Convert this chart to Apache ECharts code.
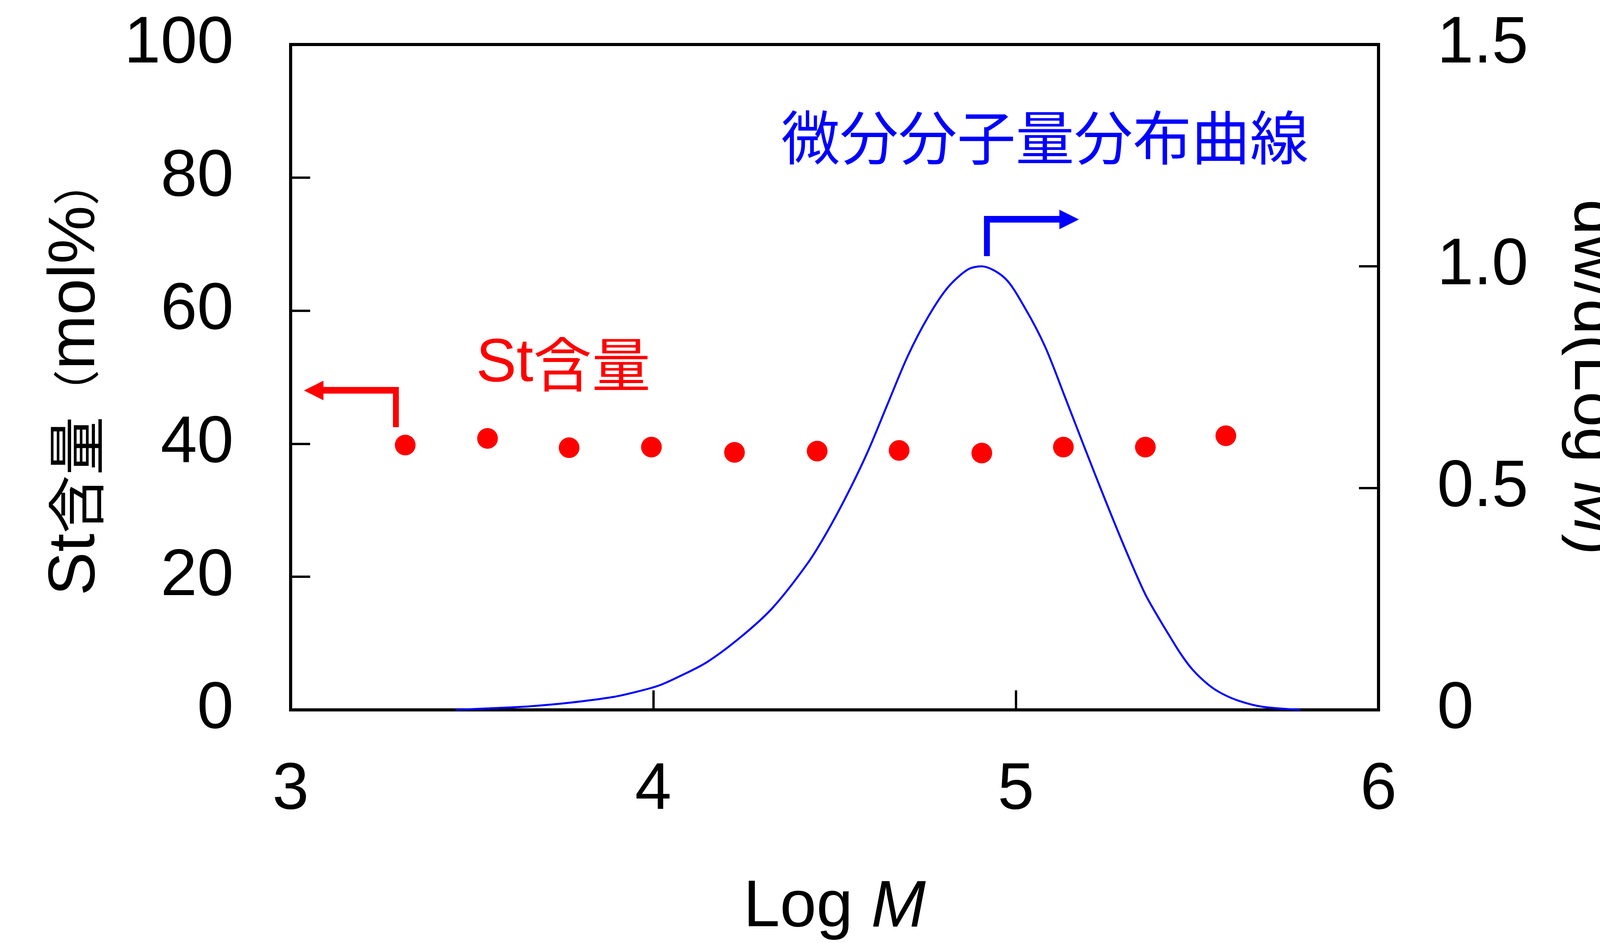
<!DOCTYPE html>
<html>
<head>
<meta charset="utf-8">
<script src="https://cdn.jsdelivr.net/npm/echarts@6/dist/echarts.min.js"></script>
<style>
  html, body { margin: 0; padding: 0; background: #fff; }
  #chart { width: 4400px; height: 2415px; }
</style>
</head>
<body>
<div id="chart"></div>
<script>
// St含量 (左軸, mol%)
var stLogM = [3.316, 3.543, 3.768, 3.995, 4.224, 4.452, 4.678, 4.906, 5.131, 5.357, 5.579];
var stContent = [39.8, 40.8, 39.4, 39.5, 38.7, 38.9, 39.0, 38.6, 39.5, 39.5, 41.2];

// 微分分子量分布曲線 (右軸)
var mwdLogM = [3.455, 3.548, 3.658, 3.768, 3.889, 3.955, 4.016, 4.071, 4.147, 4.241,
               4.329, 4.427, 4.482, 4.537, 4.592, 4.647, 4.702, 4.758, 4.813, 4.868,
               4.905, 4.970, 5.025, 5.081, 5.136, 5.191, 5.246, 5.301, 5.356, 5.399,
               5.422, 5.454, 5.487, 5.532, 5.570, 5.620, 5.680, 5.785];
var mwdValue = [0, 0.0035, 0.008, 0.016, 0.029, 0.041, 0.055, 0.075, 0.107, 0.164,
                0.230, 0.332, 0.405, 0.489, 0.583, 0.691, 0.798, 0.886, 0.953, 0.993,
                1.0, 0.973, 0.906, 0.818, 0.704, 0.588, 0.474, 0.364, 0.262, 0.200,
                0.169, 0.127, 0.091, 0.056, 0.036, 0.019, 0.007, 0];

var latin = "'Liberation Sans', Arial, sans-serif";
var cjk = "'Noto Sans CJK JP', sans-serif";

var chart = echarts.init(document.getElementById('chart'));

function pairs(xs, ys) {
  var out = [];
  for (var i = 0; i < xs.length; i++) out.push([xs[i], ys[i]]);
  return out;
}

var tickLabel = { color: '#000', fontSize: 168, fontFamily: latin };

var option = {
  backgroundColor: '#fff',
  animation: false,
  grid: {
    left: 744, right: 871, top: 114, bottom: 591,
    show: true, borderColor: '#000', borderWidth: 8, backgroundColor: 'transparent'
  },
  xAxis: {
    type: 'value', min: 3, max: 6, interval: 1,
    splitLine: { show: false },
    axisLine: { show: true, onZero: false, lineStyle: { color: '#000', width: 8 } },
    axisTick: { show: true, inside: true, length: 50, lineStyle: { color: '#000', width: 6 } },
    axisLabel: Object.assign({ margin: 123 }, tickLabel),
    name: '{a|Log }{i|M}',
    nameLocation: 'middle',
    nameGap: 424,
    nameTextStyle: {
      rich: {
        a: { fontSize: 168, fontFamily: latin, color: '#000' },
        i: { fontSize: 168, fontFamily: latin, fontStyle: 'italic', color: '#000' }
      }
    }
  },
  yAxis: [
    {
      type: 'value', min: 0, max: 100, interval: 20, position: 'left',
      splitLine: { show: false },
      axisLine: { show: true, lineStyle: { color: '#000', width: 8 } },
      axisTick: { show: true, inside: true, length: 50, lineStyle: { color: '#000', width: 6 } },
      axisLabel: Object.assign({ margin: 146 }, tickLabel),
      name: '{a|St}{b|含量}{p|（}{a|mol%}{p|）}',
      nameLocation: 'middle',
      nameRotate: 90,
      nameGap: 465,
      nameTextStyle: {
        rich: {
          a: { fontSize: 168, fontFamily: latin, color: '#000' },
          b: { fontSize: 150, fontFamily: cjk, color: '#000' },
          p: { fontSize: 120, fontFamily: cjk, color: '#000' }
        }
      }
    },
    {
      type: 'value', min: 0, max: 1.5, interval: 0.5, position: 'right',
      splitLine: { show: false },
      axisLine: { show: true, lineStyle: { color: '#000', width: 8 } },
      axisTick: { show: true, inside: true, length: 50, lineStyle: { color: '#000', width: 6 } },
      axisLabel: Object.assign({
        margin: 150,
        formatter: function (v) { return v === 0 ? '0' : v.toFixed(1); }
      }, tickLabel),
      name: '{a|dw/d(Log }{i|M}{a|)}',
      nameLocation: 'middle',
      nameRotate: -90,
      nameGap: 466,
      nameTextStyle: {
        rich: {
          a: { fontSize: 164, fontFamily: latin, color: '#000' },
          i: { fontSize: 164, fontFamily: latin, fontStyle: 'italic', color: '#000' }
        }
      }
    }
  ],
  series: [
    {
      name: 'St含量',
      type: 'scatter',
      yAxisIndex: 0,
      symbol: 'circle',
      symbolSize: 53,
      itemStyle: { color: '#ff0000', opacity: 1 },
      data: pairs(stLogM, stContent),
      z: 3
    },
    {
      name: '微分分子量分布曲線',
      type: 'line',
      yAxisIndex: 1,
      showSymbol: false,
      smooth: 0.3,
      lineStyle: { color: '#0000ff', width: 5 },
      data: pairs(mwdLogM, mwdValue),
      z: 2
    }
  ],
  graphic: [
    // 注記テキスト
    {
      type: 'text', x: 2675, y: 352,
      style: {
        text: '微分分子量分布曲線', fill: '#0000ff',
        font: '150px ' + cjk, align: 'center', verticalAlign: 'middle'
      }
    },
    {
      type: 'text', x: 1442, y: 933,
      style: {
        text: '{a|St}{b|含量}', align: 'center', verticalAlign: 'middle',
        rich: {
          a: { fontSize: 155, fontFamily: latin, fill: '#ff0000' },
          b: { fontSize: 150, fontFamily: cjk, fill: '#ff0000' }
        }
      }
    },
    // 右軸を指す矢印 (青)
    { type: 'rect', shape: { x: 2519, y: 553, width: 15, height: 103 }, style: { fill: '#0000ff' } },
    { type: 'rect', shape: { x: 2519, y: 553, width: 196, height: 17 }, style: { fill: '#0000ff' } },
    { type: 'polygon', shape: { points: [[2712, 537], [2762, 562], [2712, 587]] }, style: { fill: '#0000ff' } },
    // 左軸を指す矢印 (赤)
    { type: 'polygon', shape: { points: [[778, 1000], [828, 975], [828, 1025]] }, style: { fill: '#ff0000' } },
    { type: 'rect', shape: { x: 826, y: 991, width: 195, height: 17 }, style: { fill: '#ff0000' } },
    { type: 'rect', shape: { x: 1006, y: 991, width: 15, height: 103 }, style: { fill: '#ff0000' } }
  ]
};

chart.setOption(option);
</script>
</body>
</html>
